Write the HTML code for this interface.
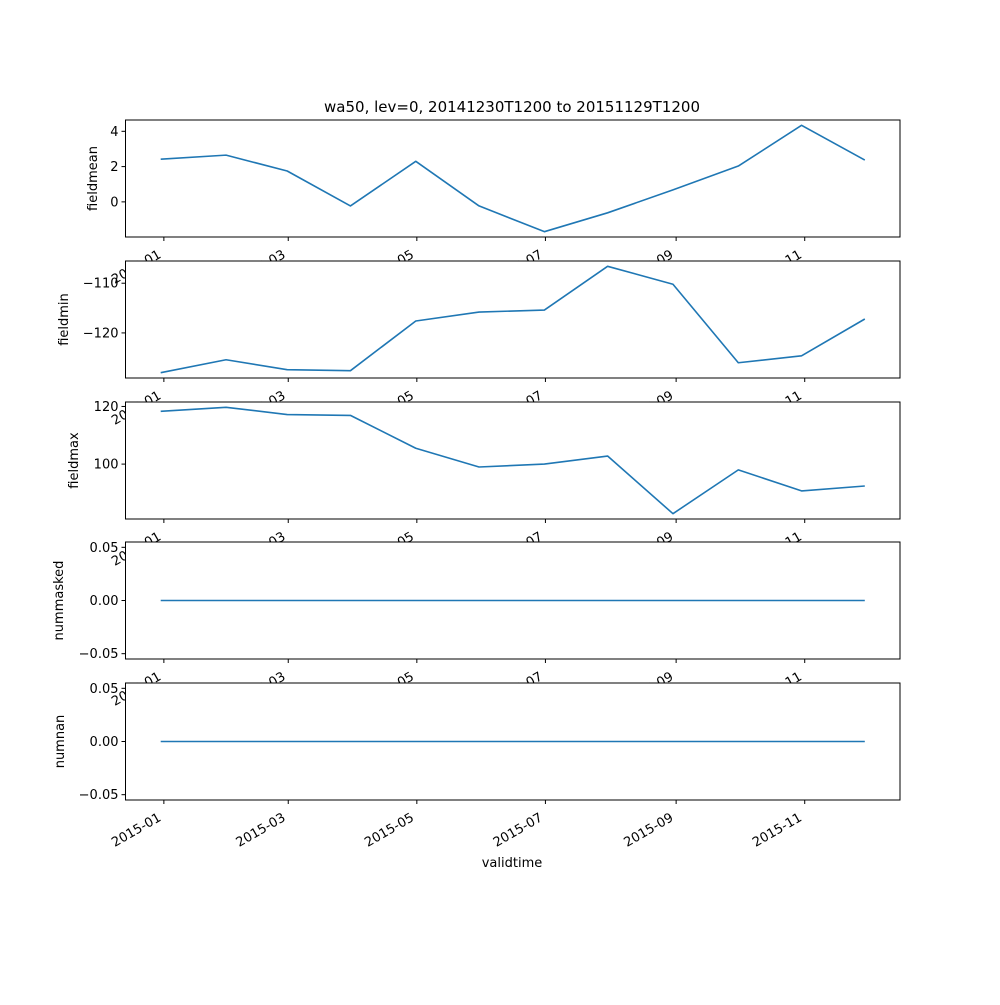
<!DOCTYPE html>
<html><head><meta charset="utf-8"><style>
body{margin:0;background:#fff}
svg text{font-family:"DejaVu Sans","Liberation Sans",sans-serif;font-size:13px;fill:#000}
</style></head><body>
<svg id="fig" width="1000" height="1000" xmlns="http://www.w3.org/2000/svg">
<rect width="1000" height="1000" fill="#fff"/>
<text x="512" y="112" text-anchor="middle" font-size="15" style="font-size:15px">wa50, lev=0, 20141230T1200 to 20151129T1200</text>
<text x="512" y="867" text-anchor="middle">validtime</text>
</svg>
<script>
const dates=["2014-12-30","2015-01-30","2015-02-28","2015-03-30","2015-04-30","2015-05-30","2015-06-30","2015-07-30","2015-08-30","2015-09-30","2015-10-30","2015-11-29"];
const fieldmean=[2.42,2.65,1.75,-0.23,2.3,-0.23,-1.69,-0.62,0.68,2.03,4.34,2.37];
const fieldmin=[-128,-125.4,-127.4,-127.6,-117.6,-115.8,-115.4,-106.6,-110.2,-126,-124.6,-117.2];
const fieldmax=[118.3,119.7,117.2,116.9,105.5,99,100,102.8,82.8,98,90.7,92.4];
const nummasked=[0,0,0,0,0,0,0,0,0,0,0,0];
const numnan=[0,0,0,0,0,0,0,0,0,0,0,0];
const xTickLabels=["2015-01","2015-03","2015-05","2015-07","2015-09","2015-11"];
const panelNames=["fieldmean","fieldmin","fieldmax","nummasked","numnan"];
const yTicks=[[0,2,4],[-120,-110],[100,120],[-0.05,0,0.05],[-0.05,0,0.05]];
const yTickLabels=[["0","2","4"],["\u2212120","\u2212110"],["100","120"],["\u22120.05","0.00","0.05"],["\u22120.05","0.00","0.05"]];
const yLabelX=[97,68,78,63,64];

const NS="http://www.w3.org/2000/svg";
const svg=document.getElementById('fig');
const L=125.5,R=900;
const series=[fieldmean,fieldmin,fieldmax,nummasked,numnan];
const tops=[120,261,402,542,683],H=117;
const day=s=>Date.parse(s+"T12:00:00Z")/864e5;
const d0=day(dates[0]),d1=day(dates[dates.length-1]),dm=(d1-d0)*0.05;
const xs=s=>L+(day(s)-(d0-dm))/((d1-d0)+2*dm)*(R-L);
const xTickX=s=>L+(Date.parse(s+"-01T00:00:00Z")/864e5-(d0-dm))/((d1-d0)+2*dm)*(R-L);
function mk(t,a,p){const e=document.createElementNS(NS,t);for(const k in a)e.setAttribute(k,a[k]);(p||svg).appendChild(e);return e;}
series.forEach((vals,i)=>{
  const top=tops[i],bot=top+H;
  let mn=Math.min(...vals),mx=Math.max(...vals);
  if(mx===mn){mn-=0.05;mx+=0.05;}
  const m=(mx-mn)*0.05;mn-=m;mx+=m;
  const ys=v=>bot-(v-mn)/(mx-mn)*H;
  const g=mk('g',{});
  
  
  const bg=mk('rect',{x:L,y:top,width:R-L,height:H,fill:'#fff'},g);
  
  
  const pts=vals.map((v,j)=>xs(dates[j]).toFixed(2)+','+ys(v).toFixed(2)).join(' ');
  const line=mk('polyline',{points:pts,fill:'none',stroke:'#1f77b4','stroke-width':1.6,'stroke-linejoin':'round'},g);
  
  
  mk('rect',{x:L,y:top,width:R-L,height:H,fill:'none',stroke:'#000','stroke-width':1},g);
  yTicks[i].forEach((t,k)=>{
    const y=ys(t);
    mk('line',{x1:L-4,x2:L,y1:y,y2:y,stroke:'#000'},g);
    const tx=mk('text',{x:L-7,y:y+4.5,'text-anchor':'end'},g);
    tx.textContent=yTickLabels[i][k];
    
    
  });
  const yl=mk('text',{x:yLabelX[i],y:(top+bot)/2,'text-anchor':'middle',transform:`rotate(-90 ${yLabelX[i]} ${(top+bot)/2})`},g);
  yl.textContent=panelNames[i];
  
  
  xTickLabels.forEach(s=>{
    const x=xTickX(s);
    mk('line',{x1:x,x2:x,y1:bot,y2:bot+4,stroke:'#000'},g);
    const tx=mk('text',{x:x-2,y:bot+20,'text-anchor':'end',transform:`rotate(-30 ${x-2} ${bot+20})`},g);
    tx.textContent=s;
    
    
  });
});
</script>
</body></html>
